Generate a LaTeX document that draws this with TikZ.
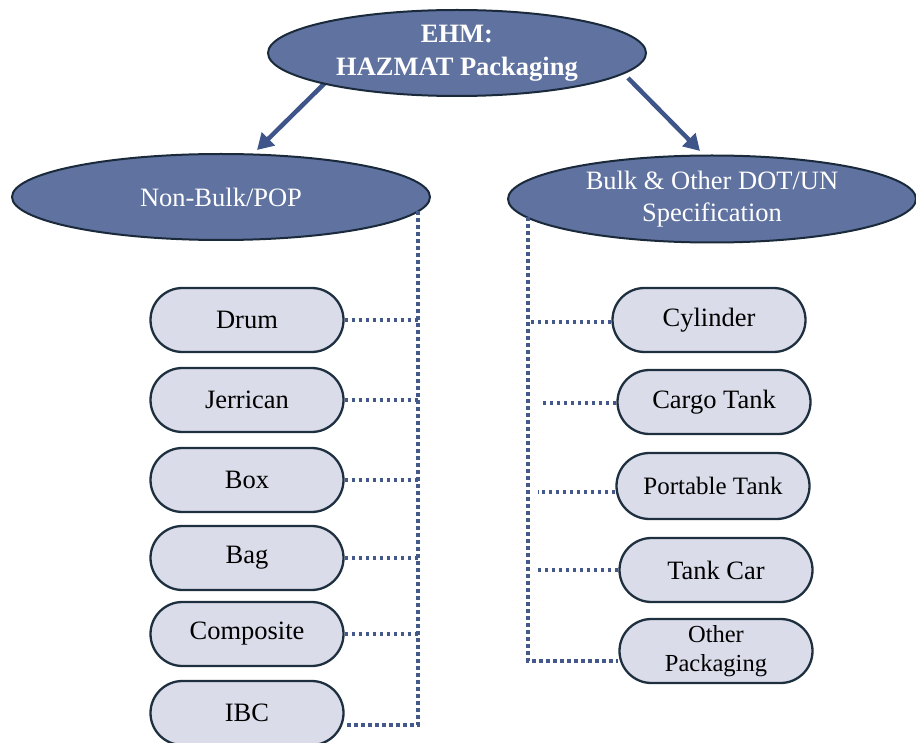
\documentclass[tikz,border=0pt]{standalone}
\usepackage{fontspec}
\setmainfont{Liberation Serif}
\usetikzlibrary{shapes.geometric,shapes.misc,arrows.meta}
\definecolor{ovalfill}{HTML}{5F72A0}
\definecolor{ovaledge}{HTML}{1A2A3A}
\definecolor{boxfill}{HTML}{DADCE9}
\definecolor{boxedge}{HTML}{1E3040}
\definecolor{linkblue}{HTML}{3F5589}
\definecolor{dotblue}{HTML}{44588C}
\begin{document}
\begin{tikzpicture}[x=1pt,y=-1pt,
  oval/.style={ellipse, draw=ovaledge, line width=2pt, fill=ovalfill,
    text=white, inner sep=0pt, align=center,
    font=\fontsize{26.5}{32}\selectfont},
  pack/.style={rounded rectangle, draw=boxedge, line width=2.3pt,
    fill=boxfill, minimum width=193pt, minimum height=64pt, inner sep=0pt,
    align=center, font=\fontsize{26.5}{30}\selectfont},
  link/.style={draw=linkblue, line width=4.5pt,
    -{Triangle[length=16pt,width=18pt]}},
  dots/.style={draw=dotblue, line width=3.4pt, dash pattern=on 3.6pt off 3.4pt}]
\useasboundingbox (0,0) rectangle (916,743);

% arrows from the root to the two branches
\coordinate (l0) at (327,81);
\coordinate (l1) at (257,150);
\coordinate (r0) at (628,78);
\coordinate (r1) at (700,151);
\draw[link] (l0) -- (l1);
\draw[link] (r0) -- (r1);

% root and branches
\node[oval, minimum width=378pt, minimum height=86pt,
      font=\bfseries\fontsize{26.5}{33}\selectfont] (top) at (457,53)
  {EHM:\\HAZMAT Packaging};
\node[oval, minimum width=418pt, minimum height=86pt] (nb) at (221,197)
  {Non-Bulk/POP};
\node[oval, minimum width=408pt, minimum height=87pt] (bk) at (712,199)
  {Bulk \& Other DOT/UN\\Specification};

% non-bulk packagings
\node[pack] (drum) at (247,320) {Drum};
\node[pack] (jerr) at (247,400) {Jerrican};
\node[pack] (box)  at (247,480) {Box};
\node[pack] (bag)  at (247,558) {Bag};
\node[pack] (comp) at (247,634) {Composite};
\node[pack] (ibc)  at (247,713) {IBC};

% bulk packagings
\node[pack] (cyl)   at (709,320) {Cylinder};
\node[pack] (cargo) at (714,402) {Cargo Tank};
\node[pack, minimum height=66pt,
      font=\fontsize{25}{30}\selectfont] (port) at (713,486) {Portable Tank};
\node[pack] (tcar)  at (716,570) {Tank Car};
\node[pack, font=\fontsize{24.5}{29}\selectfont] (other) at (716,651)
  {Other\\Packaging};

% dotted tree on the left
\coordinate (lv) at (418,211);
\draw[dots] (lv) |- ([yshift=-12pt]ibc.east);
\foreach \n in {drum,jerr,box,bag,comp}
  \draw[dots] (\n.east) -- (\n.east -| lv);

% dotted tree on the right
\coordinate (rv) at (528,217);
\draw[dots] (rv) |- ([yshift=-10pt]other.west);
\draw[dots] ([yshift=-2pt]cyl.west) -- ([yshift=-2pt]cyl.west -| rv);
\draw[dots] ([yshift=-1pt]cargo.west) -- ([xshift=12pt,yshift=-1pt]cargo.west -| rv);
\draw[dots] ([yshift=-6pt]port.west) -- ([xshift=10pt,yshift=-6pt]port.west -| rv);
\draw[dots] (tcar.west) -- ([xshift=7pt]tcar.west -| rv);
\end{tikzpicture}
\end{document}
